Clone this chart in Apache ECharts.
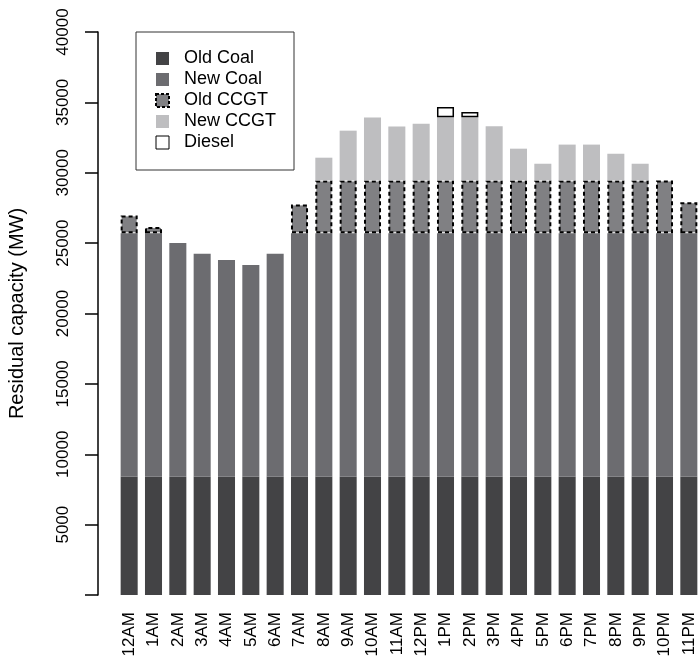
<!DOCTYPE html>
<html>
<head>
<meta charset="utf-8">
<script src="https://cdn.jsdelivr.net/npm/echarts@6/dist/echarts.min.js"></script>
<style>
  html, body { margin: 0; padding: 0; background: #fff; }
  #chart { width: 698px; height: 667px; }
</style>
</head>
<body>
<div id="chart"></div>
<script>
// Hourly residual capacity by plant type (MW)
const hours = ['12AM','1AM','2AM','3AM','4AM','5AM','6AM','7AM','8AM','9AM','10AM','11AM',
               '12PM','1PM','2PM','3PM','4PM','5PM','6PM','7PM','8PM','9PM','10PM','11PM'];

const oldCoal = [8400, 8400, 8400, 8400, 8400, 8400, 8400, 8400, 8400, 8400, 8400, 8400,
                 8400, 8400, 8400, 8400, 8400, 8400, 8400, 8400, 8400, 8400, 8400, 8400];

const newCoal = [17300, 17300, 16600, 15850, 15400, 15050, 15850, 17300, 17300, 17300, 17300, 17300,
                 17300, 17300, 17300, 17300, 17300, 17300, 17300, 17300, 17300, 17300, 17300, 17300];

const oldCCGT = [1270, 450, null, null, null, null, null, 2050, 3750, 3750, 3750, 3750,
                 3750, 3750, 3750, 3750, 3750, 3750, 3750, 3750, 3750, 3750, 3750, 2200];

const newCCGT = [null, null, null, null, null, null, null, null, 1620, 3540, 4470, 3830,
                 4040, 4490, 4490, 3850, 2260, 1190, 2550, 2550, 1900, 1190, null, null];

const diesel = [null, null, null, null, null, null, null, null, null, null, null, null,
                null, 740, 380, null, null, null, null, null, null, null, null, null];

const yTicks = [0, 5000, 10000, 15000, 20000, 25000, 30000, 35000, 40000];

const FONT = 'Liberation Sans, Arial, Helvetica, sans-serif';

const chart = echarts.init(document.getElementById('chart'), null, { renderer: 'canvas' });

function stackSeries(name, data, itemStyle) {
  return {
    name: name,
    type: 'bar',
    stack: 'capacity',
    data: data,
    barCategoryGap: '30%',
    itemStyle: itemStyle,
    emphasis: { disabled: true },
    animation: false
  };
}

chart.setOption({
  backgroundColor: '#ffffff',
  animation: false,
  grid: { left: 117, top: 32, width: 584, bottom: 72, containLabel: false, outerBoundsMode: 'none' },
  legend: {
    orient: 'vertical',
    left: 136,
    top: 32,
    padding: [16, 18, 17, 19],
    itemWidth: 13,
    itemHeight: 13,
    itemGap: 0,
    icon: 'rect',
    borderColor: '#333',
    borderWidth: 1,
    textStyle: { fontFamily: FONT, fontSize: 18, color: '#000', lineHeight: 21, padding: [0, 0, 0, 10] },
    data: [
      { name: 'Old Coal' },
      { name: 'New Coal' },
      { name: 'Old CCGT', itemStyle: { borderColor: '#000', borderWidth: 2, borderType: [3, 2] } },
      { name: 'New CCGT' },
      { name: 'Diesel', itemStyle: { borderColor: '#000', borderWidth: 1 } }
    ]
  },
  xAxis: {
    type: 'category',
    data: hours,
    axisLine: { show: false },
    axisTick: { show: false },
    axisLabel: {
      rotate: 90,
      interval: 0,
      margin: 17,
      fontFamily: FONT,
      fontSize: 17,
      color: '#000'
    }
  },
  yAxis: {
    type: 'value',
    min: 0,
    max: 40000,
    interval: 5000,
    offset: 19,
    name: 'Residual capacity (MW)',
    nameLocation: 'middle',
    nameRotate: 90,
    nameGap: 71,
    nameTextStyle: { fontFamily: FONT, fontSize: 20, color: '#000' },
    splitLine: { show: false },
    axisLine: { show: true, lineStyle: { color: '#000', width: 1.5 } },
    axisTick: { show: true, length: 13, lineStyle: { color: '#000', width: 1.5 } },
    axisLabel: {
      rotate: 90,
      margin: 26,
      fontFamily: FONT,
      fontSize: 17,
      color: '#000',
      formatter: function (v) { return yTicks.indexOf(v) > 0 ? String(v) : ''; }
    }
  },
  series: [
    stackSeries('Old Coal', oldCoal, { color: '#434345' }),
    stackSeries('New Coal', newCoal, { color: '#6c6c70' }),
    stackSeries('Old CCGT', oldCCGT, { color: '#808083', borderColor: '#000', borderWidth: 2, borderType: [4, 3] }),
    stackSeries('New CCGT', newCCGT, { color: '#bebec0' }),
    stackSeries('Diesel', diesel, { color: '#ffffff', borderColor: '#000', borderWidth: 1.5 })
  ]
});
</script>
</body>
</html>
